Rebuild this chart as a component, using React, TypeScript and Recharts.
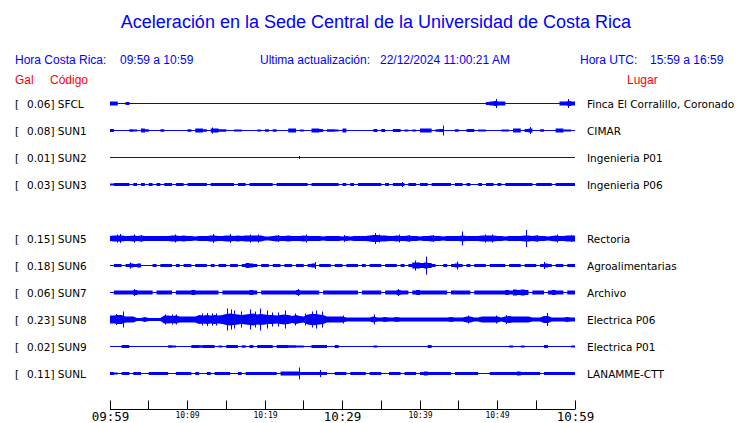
import React from 'react';
import { ComposedChart, Area, Scatter, XAxis, YAxis } from 'recharts';

// station codes, peak acceleration (Gal), place names and row slot (slot 4 = empty row)
const CODES = ['SFCL', 'SUN1', 'SUN2', 'SUN3', 'SUN5', 'SUN6', 'SUN7', 'SUN8', 'SUN9', 'SUNL'];
const GALS = ['0.06', '0.08', '0.01', '0.03', '0.15', '0.18', '0.06', '0.23', '0.02', '0.11'];
const PLACES = ['Finca El Corralillo, Coronado', 'CIMAR', 'Ingenieria P01', 'Ingenieria P06', 'Rectoria',
    'Agroalimentarias', 'Archivo', 'Electrica P06', 'Electrica P01', 'LANAMME-CTT'];
const SLOTS = [0, 1, 2, 3, 5, 6, 7, 8, 9, 10];

// minute ticks, 09:59 .. 10:59
const TICKS = [0, 5, 10, 15, 20, 25, 30, 35, 40, 45, 50, 55, 60];
const TICK_LABELS: Record<number, string> = { 0: '09:59', 10: '10:09', 20: '10:19', 30: '10:29', 40: '10:39', 50: '10:49', 60: '10:59' };

// half-width of each trace (px) in 30 s windows, 120 windows per hour
const SFCL = [
    2, 2, .5, .5, 1.5, .5, .5, .5, .5, .5, .5, .5, .5, .5, .5, .5, .5, .5, .5, .5,
    .5, .5, .5, .5, .5, .5, .5, .5, .5, .5, .5, .5, .5, .5, .5, .5, .5, .5, .5, .5,
    .5, .5, .5, .5, .5, .5, .5, .5, .5, .5, .5, .5, .5, .5, .5, .5, .5, .5, .5, .5,
    .5, .5, .5, .5, .5, .5, .5, .5, .5, .5, .5, .5, .5, .5, .5, .5, .5, .5, .5, .5,
    .5, .5, .5, .5, .5, .5, .5, .5, .5, .5, .5, .5, .5, .5, .5, .5, .5, 1.5, 2, 2.5,
    2, 2, .5, .5, .5, .5, .5, .5, .5, .5, .5, .5, .5, .5, .5, .5, 2, 2, 2.5, 2,
];
const SUN1 = [
    1.5, .5, .5, .5, .5, 1.2, 1, .5, 2, 1.2, .5, .5, .5, 1.2, .5, .5, .5, .5, .5, .5,
    1.2, .5, 2, 2, 1.2, .5, 2, 2, 1.2, 1.2, .5, .5, 1, 1, .5, .5, .5, .5, 1, .5,
    1.2, .5, 1.2, .5, .5, .5, 2, 2, .5, 1, .5, .5, 2, 2, 1.5, .5, 1.2, 1.2, 1, .5,
    2, .5, .5, .5, .5, .5, .5, .5, 1.5, .5, 1.5, .5, .5, 1.5, 1.5, .5, 1, .5, 1, .5,
    2, 2, 2, .5, 1.2, 1.5, .5, .5, .5, 1.2, .5, .5, 1.5, 1.5, .5, 1, 1, .5, .5, .5,
    .5, 1, 1, .5, 2, 2, .5, 1.5, 2, .5, .5, 1.2, .5, .5, .5, 2, 2, 1, 1, .5,
];
const SUN2 = [
    .5, .5, .5, .5, .5, .5, .5, .5, .5, .5, .5, .5, .5, .5, .5, .5, .5, .5, .5, .5,
    .5, .5, .5, .5, .5, .5, .5, .5, .5, .5, .5, .5, .5, .5, .5, .5, .5, .5, .5, .5,
    .5, .5, .5, .5, .5, .5, .5, .5, .5, .5, .5, .5, .5, .5, .5, .5, .5, .5, .5, .5,
    .5, .5, .5, .5, .5, .5, .5, .5, .5, .5, .5, .5, .5, .5, .5, .5, .5, .5, .5, .5,
    .5, .5, .5, .5, .5, .5, .5, .5, .5, .5, .5, .5, .5, .5, .5, .5, .5, .5, .5, .5,
    .5, .5, .5, .5, .5, .5, .5, .5, .5, .5, .5, .5, .5, .5, .5, .5, .5, .5, .5, .5,
];
const SUN3 = [
    1, 1.5, 1.5, 1.5, 1.5, .5, 1.5, .5, 1.5, .5, 1.5, .5, 1.5, .5, 1.5, 1.5, .5, 1.5, 1.5, .5,
    1.5, 1.5, 1.5, 1.5, 1.5, .5, 1.5, 1.5, 1.5, 1.5, 1.5, 1.5, .5, 1.5, 1.5, .5, 1.5, 1.5, 1.5, 1.5,
    1.5, 1.5, .5, 1.5, 1.5, 1.5, 1.5, 1.5, 1.5, 1.5, 1.5, .5, 1.5, 1.5, 1.5, 1.5, 1.5, 1.5, 1.5, .5,
    1.5, .5, 1.5, .5, 1.5, 1.5, 1.5, 1.5, 1.5, 1.5, .5, 1.5, .5, 1.5, 1.5, 1.5, .5, 1.5, 1.5, .5,
    1.5, 1.5, .5, 1.5, 1.5, 1.5, 1.5, 1.5, .5, 1.5, 1.5, .5, 1.5, .5, .5, 1.5, .5, 1.5, 1.5, .5,
    1.5, .5, 1.5, 1.5, 1.5, 1.5, 1.5, 1.5, 1.5, .5, 1.5, 1.5, 1.5, 1.5, .5, 1.5, 1.5, 1.5, 1.5, 1.5,
];
const SUN5 = [
    2.5, 3, 3, 3, 2.5, 2.5, 3, 2.5, 3, 2.5, 2.5, 2.5, 2.5, 2.5, 2.5, 2.5, 3, 3, 2.5, 3,
    2.5, 2.5, 2, 2.5, 2.5, 2.5, 3, 3, 2.5, 2.5, 3, 3, 2.5, 3, 2.5, 3, 3, 3, 3, 3,
    2, 2, 2.5, 3, 2.5, 2.5, 3, 2.5, 2.5, 2.5, 3, 2.5, 2.5, 2.5, 2.5, 2, 2.5, 2.5, 2.5, 2.5,
    2, 2.5, 2, 2.5, 2.5, 2.5, 2.5, 3, 3.5, 3.5, 3, 3, 2.5, 2.5, 3, 2.5, 2.5, 3, 2.5, 2.5,
    2, 2.5, 2.5, 3, 2.5, 2.5, 2, 2.5, 2.5, 2.5, 2.5, 3, 2.5, 2.5, 2.5, 2.5, 3, 3, 3, 3,
    2.5, 2.5, 2, 2.5, 2.5, 2.5, 2.5, 3, 3, 2.5, 3, 2.5, 2.5, 2, 2.5, 3, 2.5, 2.5, 3, 3,
];
const SUN6 = [
    .5, 1.5, 1.5, .5, 1.5, 2, 1.5, 2, .5, .5, .5, 1.5, .5, 1.5, 1.5, 1.5, .5, 1.5, .5, 1.5,
    1.5, .5, 1.5, 1.5, 1.5, .5, 1.5, .5, 1.5, 1.5, .5, 1.5, 1.5, .5, 1.5, 2.5, 2, 1.5, .5, 1.5,
    1.5, .5, 1.5, 1.5, .5, 1.5, 1.5, .5, 1.5, 1.5, .5, 1.5, 2, .5, 1.5, 1.5, 1.5, .5, 1.5, 1.5,
    .5, 1.5, 1.5, 1.5, .5, 1.5, .5, 1.5, 1.5, 1.5, .5, 1.5, 1.5, 1.5, .5, 1.5, .5, 1.5, 3, 3,
    2.5, 3, 2.5, 1.5, .5, .5, 1.5, .5, 1.5, 2, 1.5, .5, 1.5, .5, 1.5, 1.5, 1.5, .5, 1.5, 1.5,
    1.5, 1.5, .5, 1.5, 1.5, 1.5, .5, 1.5, 1.5, 1.5, .5, 1.5, 2, 1.5, .5, 1.5, 1.5, .5, 1.5, 1.5,
];
const SUN7 = [
    .5, 2, 2, 2, 2, 2, 2.5, 2, 2, 2, 2, .5, 2, 2, 2, 2, .5, 2, 2, 2,
    2, 2.5, 2, 2, 2, 2, 2, 2, .5, 2, 2, 2, 2, 2, 2, 2, 2.5, 2, .5, 2,
    2, 2, 2, 2, 2, 2, 2, 2, 2.5, 2, 2, 2, 2, 2, .5, 2, 2, 2, 2, 2,
    2, 2, 2, 2, .5, 2, 2, 2, 2, 2, .5, 2, 2, 2, 2.5, 2, 2, .5, 2, 2.5,
    2, 2, 2, 2, 2, 2, 2, .5, 2, 2, 2, 2, 2, .5, 2, 2, 2, 2, 2, 2,
    2, 2, 2.5, 2, 3, 2.5, 3, 2.5, .5, 2, 2, 2, .5, 2, 2.5, 2, 2, .5, 2, 2,
];
const SUN8 = [
    4, 4, 4.5, 4.5, 3, 3, 3, 1.5, 1.5, 2.5, 1.5, 1.5, 1.5, 1.5, 4, 4, 3.5, 4, 3, 3,
    3, 3, 3, 4.5, 4, 4.5, 4, 4.5, 4, 4.5, 5.5, 6, 5.5, 5, 4.5, 5, 5.5, 6, 5, 5.5,
    5, 4.5, 4.5, 4, 4.5, 5, 4.5, 3.5, 4.5, 3.5, 3, 5, 5.5, 5.5, 5, 4.5, 3, 3, 3, 3,
    3, 2, 2, 2, 2, 2, 2, 2, 3, 2, 2, 2.5, 2, 2, 2.5, 2, 2, 2, 2, 2,
    2, 2, 2, 2, 2, 2, 2, 2, 2.5, 2, 2, 2, 3, 3, 2, 2, 3, 3, 3, 3,
    3, 2, 3, 3.5, 3, 3, 3, 3, 3, 2, 2, 2, 3.5, 3.5, 2, 2, 2, 2, 2.5, 2,
];
const SUN9 = [
    .5, .5, .5, 1.5, 1.5, .5, .5, .5, .5, .5, .5, .5, .5, .5, .5, 1.2, 1, .5, .5, .5,
    .5, 1.5, 1.5, 1.2, 1.5, 1.5, 1.5, .5, 1, .5, 1.5, 1.5, 1.5, .5, 1.2, .5, 1.5, .5, 1.5, 1.5,
    1.5, 1.5, .5, 1.5, 1.5, 1.5, 1.2, 1.2, 1, 1, .5, .5, 1.5, 1.5, 1.5, 1.5, .5, .5, 1.5, .5,
    .5, .5, .5, .5, .5, .5, .5, .5, 1, .5, .5, .5, .5, .5, .5, .5, .5, .5, .5, .5,
    .5, .5, 1.5, .5, .5, .5, .5, .5, .5, .5, .5, .5, .5, .5, .5, .5, .5, .5, .5, .5,
    .5, .5, .5, 1, .5, .5, 1, .5, .5, .5, .5, .5, 1.5, .5, .5, .5, .5, .5, .5, 1,
];
const SUNL = [
    1.5, 1, .5, 1.5, 1.5, .5, 1.5, 1.5, .5, .5, 1.5, 1.5, 1.5, 1.5, 1.5, .5, .5, 1.5, 1.5, 1.5,
    1.5, .5, 1.5, .5, .5, 1.5, .5, 1.5, 1.5, 1.5, 1.5, .5, .5, 1.5, .5, 1.5, 1.5, 1.5, 1.5, 1.5,
    1.5, 1.5, 1.5, .5, 2, 2, 2, 2, 2, 1.5, 1.5, 1.5, 1.5, 1.5, 1.5, 1.5, .5, .5, 1.5, 1.5,
    1.5, .5, 1.5, 1.5, 1.5, 1.5, .5, 1.5, 1.5, 1.5, .5, .5, 1.5, 1.5, 1.5, .5, 1.5, 1.5, 1.5, .5,
    1.5, 2, 1.5, 1.5, 1.5, 1.5, 1.5, 1.5, .5, 1.5, 1.5, 1.5, 1.5, 1.5, 1.5, .5, .5, .5, 1.5, 1.5,
    1.5, 1.5, 1.5, 1.5, 1.5, 2, 1.5, 1.5, 1.5, 1.5, 1.5, .5, 1.5, 1.5, 1.5, 1.5, 1.5, 1.5, 1.5, 1.5,
];

const AMPS = [SFCL, SUN1, SUN2, SUN3, SUN5, SUN6, SUN7, SUN8, SUN9, SUNL];

// isolated peaks: station index, minute after 09:59, half-height (px)
const PEAK_STATION = [
    0, 0,
    1, 1, 1,
    2, 3,
    4, 4, 4, 4, 4, 4, 4, 4, 4, 4, 4, 4, 4, 4, 4, 4, 4, 4, 4, 4, 4, 4, 4, 4,
    5, 5, 5, 5, 5, 5,
    6, 6, 6,
    7, 7, 7, 7, 7, 7, 7, 7, 7, 7, 7, 7, 7, 7, 7, 7, 7, 7, 7, 7, 7, 7, 7, 7, 7, 7, 7, 7, 7, 7, 7,
    9, 9,
];
const PEAK_TIME = [
    49.9, 59.1,
    13.2, 43.0, 54.3,
    24.4, 37.7,
    1.0, 1.4, 3.2, 4.1, 8.5, 13.3, 15.6, 18.1, 19.1, 21.7, 25.4, 30.3, 34.2, 34.8, 37.4, 38.6, 41.7, 45.5, 48.4, 49.4, 53.7, 55.2, 57.7, 59.6,
    2.6, 26.5, 39.4, 40.8, 44.9, 56.1,
    3.2, 24.3, 37.2,
    0.8, 1.7, 7.1, 8.0, 8.6, 11.9, 12.6, 13.2, 13.8, 15.2, 15.7, 16.1, 17.0, 18.1, 18.8, 19.4, 20.3, 21.0, 21.8, 22.7, 23.9, 25.2, 26.1, 26.6, 27.4,
    30.1, 34.1, 46.2, 49.9, 51.2, 56.4,
    24.4, 27.1,
];
const PEAK_AMP = [
    4.5, 4.5,
    3, 5, 3.5,
    1.5, 2.5,
    4, 4.5, 4, 3.5, 4, 4.5, 4.5, 4, 4, 3.5, 4, 3.5, 5.5, 4, 4, 3.5, 3.5, 7, 4, 4, 8.5, 3.5, 4, 3.5,
    3, 3.5, 5, 9, 4, 3.5,
    3.5, 3.5, 3.5,
    5.5, 8, 5, 5, 5, 6, 6.5, 6, 6, 11, 10, 9, 8, 10, 8, 11, 9, 7, 7, 9, 6, 6, 8, 9, 8,
    4, 5, 4, 4, 4.5, 6.5,
    6, 3.5,
];

const CURVES = ['stepAfter', 'stepAfter', 'stepAfter', 'stepAfter', 'linear', 'stepAfter', 'stepAfter', 'linear', 'stepAfter', 'stepAfter'];

const BLUE = '#0000ff';
const RED = '#ff0000';
const TOP = 90;
const ROW_H = 27;
const AXIS_Y = 409.5;
const rowCenter = (slot: number) => 13.5 + ROW_H * slot;

const data = Array.from({ length: 121 }, (_, k) => {
    const row: any = { t: k * 0.5 };
    AMPS.forEach((a, s) => { row[CODES[s]] = a[Math.min(k, a.length - 1)]; });
    return row;
});

const peaks = PEAK_TIME.map((t, i) => ({
    t,
    y: rowCenter(SLOTS[PEAK_STATION[i]]),
    amp: PEAK_AMP[i],
}));

const PeakShape = (props: any) => {
    const { cx, cy, payload } = props;
    const px = Math.floor(cx) + 0.5;
    return <line x1={px} x2={px} y1={cy - payload.amp} y2={cy + payload.amp} stroke={BLUE} strokeWidth={1} />;
};

const XTick = (props: any) => {
    const { x, payload } = props;
    const px = Math.floor(x) + 0.5;
    const label = TICK_LABELS[payload.value];
    const big = payload.value % 30 === 0;
    return (
        <g>
            <line x1={px} x2={px} y1={AXIS_Y - 9} y2={AXIS_Y} stroke="#000" />
            {label && (
                <text x={px} y={big ? 421 : 418} textAnchor="middle" fill="#000"
                    style={{ fontFamily: 'DejaVu Sans Mono', fontSize: big ? 12.5 : 8 }}>
                    {label}
                </text>
            )}
        </g>
    );
};

export default function App() {
    const header = { fontFamily: 'Liberation Sans', fontSize: 12 };
    const label = { fontFamily: 'DejaVu Sans', fontSize: 10.5 };
    return (
        <div style={{ position: 'absolute', left: 0, top: 0, width: 740, height: 423, background: '#fff' }}>
            <ComposedChart width={740} height={423} data={data}
                margin={{ top: TOP, right: 165, bottom: 0, left: 110 }}>
                <XAxis dataKey="t" type="number" domain={[0, 60]} ticks={TICKS} interval={0}
                    height={13.5} tickLine={false} tickSize={0} tick={<XTick />}
                    axisLine={{ stroke: '#000' }} />
                <YAxis type="number" domain={[0, 319.5]} reversed hide />
                {CODES.map((code, s) => (
                    <Area key={code} type={CURVES[s] as any} isAnimationActive={false}
                        dataKey={(d: any) => {
                            const c = rowCenter(SLOTS[s]);
                            return [c - d[code], c + d[code]];
                        }}
                        stroke="none" fill={BLUE} fillOpacity={1} dot={false} activeDot={false} />
                ))}
                <Scatter data={peaks} dataKey="y" isAnimationActive={false} shape={<PeakShape />} />
            </ComposedChart>
            <svg width={740} height={423} style={{ position: 'absolute', left: 0, top: 0, pointerEvents: 'none' }}>
                <text x={376} y={28} textAnchor="middle" fill={BLUE}
                    style={{ fontFamily: 'Liberation Sans', fontSize: 18 }}>
                    Aceleración en la Sede Central de la Universidad de Costa Rica
                </text>
                <g style={header} fill={BLUE}>
                    <text x={15} y={64}>Hora Costa Rica:</text>
                    <text x={120} y={64}>09:59 a 10:59</text>
                    <text x={260} y={64}>Ultima actualización:</text>
                    <text x={380} y={64}>22/12/2024 11:00:21 AM</text>
                    <text x={580} y={64}>Hora UTC:</text>
                    <text x={650} y={64}>15:59 a 16:59</text>
                </g>
                <g style={header} fill={RED}>
                    <text x={15} y={84}>Gal</text>
                    <text x={50} y={84}>Código</text>
                    <text x={627} y={84}>Lugar</text>
                </g>
                <g style={label} fill="#000">
                    {CODES.map((code, s) => {
                        const y = TOP + rowCenter(SLOTS[s]) + 4;
                        return (
                            <g key={code}>
                                <text x={15} y={y}>[</text>
                                <text x={27} y={y}>{`${GALS[s]}] ${code}`}</text>
                                <text x={587} y={y}>{PLACES[s]}</text>
                            </g>
                        );
                    })}
                </g>
            </svg>
        </div>
    );
}
